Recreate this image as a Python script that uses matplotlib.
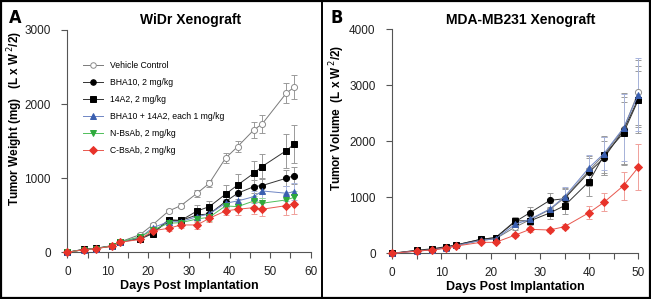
import matplotlib
matplotlib.use('Agg')
import matplotlib.pyplot as plt
from matplotlib.lines import Line2D
import numpy as np

plt.rcParams['font.family'] = ['Liberation Sans', 'DejaVu Sans']

# panel A - WiDr
days_a = [0, 4, 7, 11, 13, 18, 21, 25, 28, 32, 35, 39, 42, 46, 48, 54, 56]
veh_a = [0, 40, 55, 90, 140, 240, 369, 558, 630, 797, 932, 1270, 1427, 1653, 1730, 2149, 2230]
veh_a_err = [0, 5, 8, 10, 12, 20, 25, 30, 35, 50, 50, 70, 75, 110, 120, 140, 160]
bha_a = [0, 35, 50, 85, 140, 190, 260, 440, 430, 504, 517, 684, 797, 887, 900, 1000, 1035]
bha_a_err = [0, 5, 6, 10, 12, 25, 30, 40, 40, 50, 50, 70, 80, 90, 100, 110, 110]
a14_a = [0, 40, 55, 85, 140, 180, 250, 430, 430, 558, 616, 784, 909, 1068, 1157, 1373, 1464]
a14_a_err = [0, 5, 6, 10, 12, 20, 30, 40, 40, 80, 80, 130, 150, 170, 170, 230, 255]
combo_a = [0, 35, 50, 85, 140, 200, 330, 414, 414, 481, 517, 662, 693, 751, 828, 797, 819]
combo_a_err = [0, 5, 6, 10, 12, 20, 30, 40, 40, 50, 50, 60, 70, 80, 90, 100, 120]
nbs_a = [0, 35, 50, 85, 140, 210, 300, 392, 400, 450, 473, 626, 616, 693, 662, 707, 743]
nbs_a_err = [0, 5, 6, 10, 12, 20, 30, 30, 40, 40, 50, 60, 60, 70, 70, 80, 80]
cbs_a = [0, 35, 50, 80, 135, 175, 290, 324, 369, 369, 459, 558, 581, 603, 581, 630, 653]
cbs_a_err = [0, 5, 6, 10, 12, 25, 30, 30, 40, 50, 50, 60, 80, 80, 90, 120, 135]

# panel B - MDA-MB231
days_b = [0, 5, 8, 11, 13, 18, 21, 25, 28, 32, 35, 40, 43, 47, 50]
veh_b = [0, 40, 60, 100, 140, 230, 260, 470, 600, 780, 990, 1480, 1760, 2220, 2880]
veh_b_err = [0, 8, 10, 15, 20, 30, 35, 60, 80, 120, 180, 250, 320, 650, 580]
bha_b = [0, 50, 70, 110, 150, 250, 280, 565, 726, 945, 975, 1450, 1700, 2200, 2760]
bha_b_err = [0, 8, 10, 15, 20, 30, 35, 70, 100, 140, 180, 250, 300, 600, 500]
a14_b = [0, 55, 80, 120, 150, 250, 280, 580, 580, 720, 850, 1280, 1750, 2150, 2740]
a14_b_err = [0, 8, 10, 15, 20, 30, 35, 70, 80, 100, 150, 250, 350, 550, 600]
combo_b = [0, 40, 60, 100, 140, 230, 260, 520, 610, 790, 1010, 1530, 1780, 2240, 2830]
combo_b_err = [0, 8, 10, 15, 20, 30, 35, 70, 80, 120, 170, 230, 300, 600, 650]
cbs_b = [0, 40, 60, 90, 130, 196, 196, 327, 428, 416, 476, 726, 910, 1208, 1536]
cbs_b_err = [0, 8, 10, 12, 15, 20, 20, 30, 40, 40, 50, 115, 160, 250, 410]

labels = ['Vehicle Control', 'BHA10, 2 mg/kg', '14A2, 2 mg/kg',
          'BHA10 + 14A2, each 1 mg/kg', 'N-BsAb, 2 mg/kg', 'C-BsAb, 2 mg/kg']

# style per group: marker, face, edge, line colour, error colour
sty = {
    'veh': dict(marker='o', mfc='white', mec='#8c8c8c', color='#7a7a7a', ecolor='#9a9a9a'),
    'bha': dict(marker='o', mfc='black', mec='black', color='#333333', ecolor='#9a9a9a'),
    'a14': dict(marker='s', mfc='black', mec='black', color='#333333', ecolor='#9a9a9a'),
    'combo': dict(marker='^', mfc='#3a5fb0', mec='#3a5fb0', color='#6f86c4', ecolor='#a8b4dc'),
    'nbs': dict(marker='v', mfc='#2eaa3c', mec='#2eaa3c', color='#4fbf5a', ecolor='#9ad4a0'),
    'cbs': dict(marker='D', mfc='#e8332a', mec='#e8332a', color='#e8574e', ecolor='#f0a09a'),
}


def draw(ax, x, y, err, key, ms=4.4):
    s = sty[key]
    ax.errorbar(x, y, yerr=err, fmt='none', ecolor=s['ecolor'], elinewidth=0.7,
                capsize=2.2, capthick=0.7, zorder=2, clip_on=False)
    ax.plot(x, y, color=s['color'], lw=0.7, marker=s['marker'], ms=ms if s['marker'] != 'D' else ms - 0.6,
            mfc=s['mfc'], mec=s['mec'], mew=0.7, zorder=3, clip_on=False)


fig = plt.figure(figsize=(6.51, 2.99), dpi=100)
ax1 = fig.add_axes([0.1034, 0.1562, 0.3739, 0.7435])
ax2 = fig.add_axes([0.6026, 0.1528, 0.3779, 0.7492])

draw(ax1, days_a, veh_a, veh_a_err, 'veh')
draw(ax1, days_a, bha_a, bha_a_err, 'bha')
draw(ax1, days_a, a14_a, a14_a_err, 'a14')
draw(ax1, days_a, combo_a, combo_a_err, 'combo')
draw(ax1, days_a, nbs_a, nbs_a_err, 'nbs')
draw(ax1, days_a, cbs_a, cbs_a_err, 'cbs')

draw(ax2, days_b, veh_b, veh_b_err, 'veh')
draw(ax2, days_b, bha_b, bha_b_err, 'bha')
draw(ax2, days_b, a14_b, a14_b_err, 'a14')
draw(ax2, days_b, combo_b, combo_b_err, 'combo')
draw(ax2, days_b, cbs_b, cbs_b_err, 'cbs')

for ax, xmax, ymax in [(ax1, 60, 3000), (ax2, 50, 4000)]:
    ax.set_xlim(0, xmax)
    ax.set_ylim(0, ymax)
    ax.set_xticks(np.arange(0, xmax + 1, 10))
    ax.set_xticks(np.arange(0, xmax + 1, 5), minor=True)
    ax.set_yticks(np.arange(0, ymax + 1, 1000))
    for sp in ['top', 'right']:
        ax.spines[sp].set_visible(False)
    for sp in ['left', 'bottom']:
        ax.spines[sp].set_color('#555555')
        ax.spines[sp].set_linewidth(0.8)
    ax.tick_params(axis='both', which='both', color='#555555', width=0.8, labelsize=8.5,
                   labelcolor='#222222')
    ax.tick_params(axis='x', which='major', length=4, pad=6)
    ax.tick_params(axis='x', which='minor', length=4)
    ax.tick_params(axis='y', which='major', length=4, pad=8)

ax1.set_xlabel('Days Post Implantation', fontsize=9, fontweight='bold')
ax2.set_xlabel('Days Post Implantation', fontsize=9, fontweight='bold')
ax1.xaxis.set_label_coords(0.5, -0.125)
ax2.xaxis.set_label_coords(0.5, -0.122)

fig.text(0.023, 0.605, 'Tumor Weight (mg)   (L x W$^{\\,2}$/2)', rotation=90, ha='center',
         va='center', fontsize=8.5, fontweight='bold')
fig.text(0.518, 0.605, 'Tumor Volume  (L x W$^{\\,2}$/2)', rotation=90, ha='center',
         va='center', fontsize=8.5, fontweight='bold')

fig.text(0.292, 1 - 20 / 299, 'WiDr Xenograft', ha='center', va='center', fontsize=10,
         fontweight='bold')
fig.text(0.800, 1 - 20 / 299, 'MDA-MB231 Xenograft', ha='center', va='center', fontsize=10,
         fontweight='bold')

fig.text(0.014, 1 - 18 / 299, 'A', ha='left', va='center', fontsize=13, fontweight='bold',
         family='DejaVu Sans', fontstretch='condensed')
fig.text(0.508, 1 - 18 / 299, 'B', ha='left', va='center', fontsize=13, fontweight='bold',
         family='DejaVu Sans', fontstretch='condensed')

handles = []
for key, lab in zip(['veh', 'bha', 'a14', 'combo', 'nbs', 'cbs'], labels):
    s = sty[key]
    handles.append(Line2D([], [], color=s['color'], lw=0.7, marker=s['marker'], ms=4,
                          mfc=s['mfc'], mec=s['mec'], mew=0.7))
leg = ax1.legend(handles, labels, loc='upper left', bbox_to_anchor=(0.05, 0.875), frameon=False,
                 fontsize=6.2, handlelength=2.3, handletextpad=0.9, labelspacing=0.92,
                 borderaxespad=0)

# panel frame
fig.add_artist(plt.Rectangle((0.0015, 0.003), 0.997, 0.994, transform=fig.transFigure,
                             fill=False, lw=1.6, color='black'))
fig.add_artist(Line2D([322 / 651, 322 / 651], [0, 1], transform=fig.transFigure, lw=1.4,
                      color='black'))

fig.savefig('out.png', dpi=100)
